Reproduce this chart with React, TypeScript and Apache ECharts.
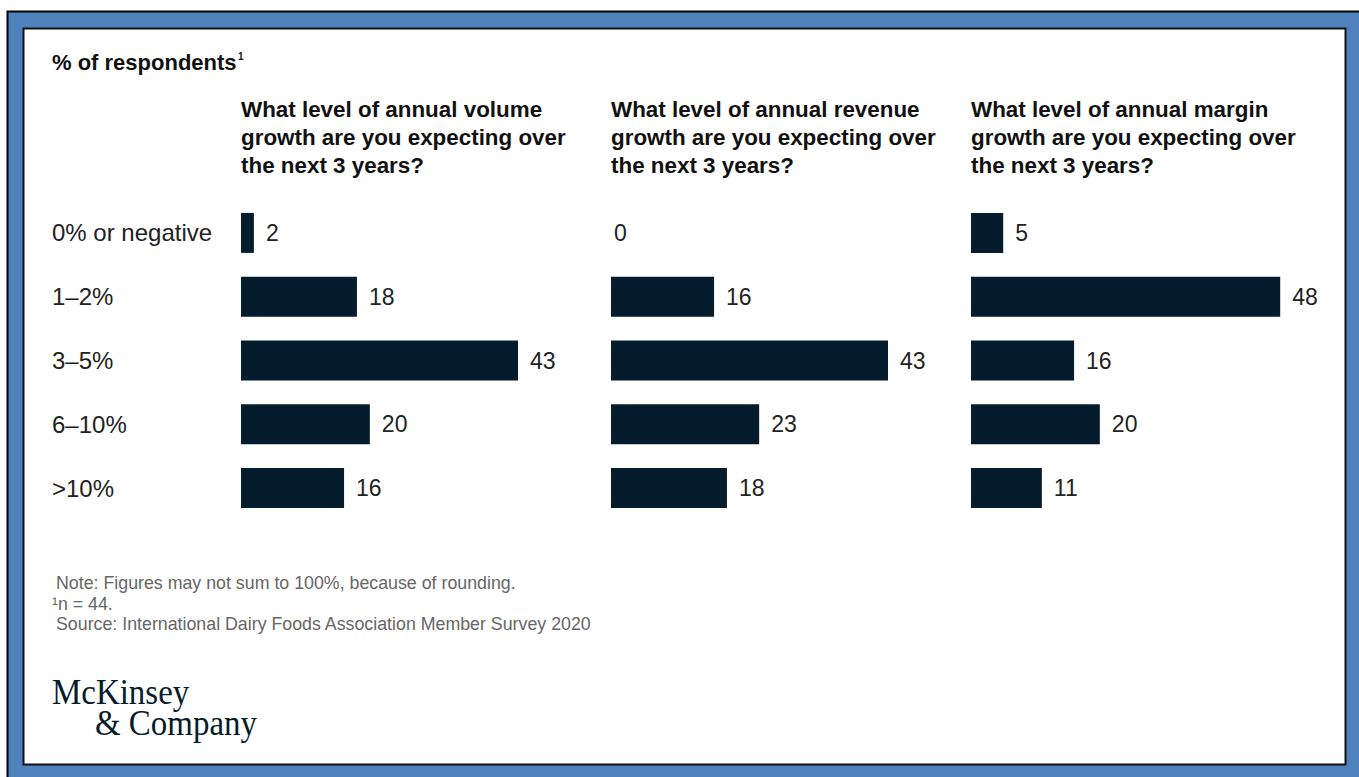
import React, { useEffect, useRef } from "react";
import * as echarts from "echarts";

const categories = ["0% or negative", "1–2%", "3–5%", "6–10%", ">10%"];
const volumeValues = [2, 18, 43, 20, 16];
const revenueValues = [0, 16, 43, 23, 18];
const marginValues = [5, 48, 16, 20, 11];
const panelTitles = [
  "What level of annual volume\ngrowth are you expecting over\nthe next 3 years?",
  "What level of annual revenue\ngrowth are you expecting over\nthe next 3 years?",
  "What level of annual margin\ngrowth are you expecting over\nthe next 3 years?",
];
const panelLefts = [241, 611, 971];
const seriesValues = [volumeValues, revenueValues, marginValues];

const BAR = "#051c2c";
const TXT = "#222222";
const FONT = "'Liberation Sans', Arial, sans-serif";
const SERIF = "'Liberation Serif', 'Times New Roman', serif";

export default function App() {
  const ref = useRef<HTMLDivElement>(null);
  useEffect(() => {
    const chart = echarts.init(ref.current!, null, { renderer: "svg" });
    const AXMAX = 50;
    const pxPerUnit = 277 / 43;
    const gridW = AXMAX * pxPerUnit;
    const grids = panelLefts.map((l) => ({ left: l, top: 201, width: gridW, height: 319 }));
    const xAxes = panelLefts.map((_, i) => ({
      type: "value",
      gridIndex: i,
      min: 0,
      max: AXMAX,
      show: false,
    }));
    const yAxes = panelLefts.map((_, i) => ({
      type: "category",
      gridIndex: i,
      data: categories,
      inverse: true,
      axisLine: { show: false },
      axisTick: { show: false },
      splitLine: { show: false },
      axisLabel: {
        show: i === 0,
        align: "left",
        margin: 189,
        color: TXT,
        fontSize: 24,
        fontFamily: FONT,
        verticalAlign: "middle",
        padding: [0, 0, 4, 0],
      },
    }));
    const series = seriesValues.map((vals, i) => ({
      type: "bar",
      xAxisIndex: i,
      yAxisIndex: i,
      data: vals.map((v) => (v === 0 ? { value: v, label: { distance: 3 } } : v)),
      barWidth: 40,
      itemStyle: { color: BAR },
      label: {
        show: true,
        position: "right",
        distance: 12,
        color: TXT,
        fontSize: 23,
        fontFamily: FONT,
      },
    }));
    const titleTexts = panelTitles.map((t, i) => ({
      type: "text",
      left: panelLefts[i],
      top: 95,
      style: {
        text: t,
        fill: "#111111",
        font: `bold 22.4px ${FONT}`,
        lineHeight: 28,
      },
    }));
    chart.setOption({
      animation: false,
      backgroundColor: "#ffffff",
      grid: grids,
      xAxis: xAxes,
      yAxis: yAxes,
      series,
      graphic: [
        {
          type: "rect",
          z: -10,
          shape: { x: 7.5, y: 11.5, width: 1400, height: 800 },
          style: { fill: "#4f81bd", stroke: "#000000", lineWidth: 2 },
          silent: true,
        },
        {
          type: "rect",
          z: -9,
          shape: { x: 23.5, y: 28.5, width: 1322, height: 736 },
          style: { fill: "#ffffff", stroke: "#111111", lineWidth: 2 },
          silent: true,
        },
        {
          type: "text",
          x: 52,
          y: 62,
          style: {
            text: "% of respondents",
            fill: "#111111",
            font: `bold 22px ${FONT}`,
            verticalAlign: "middle",
          },
        },
        {
          type: "text",
          x: 238,
          y: 56,
          style: { text: "1", fill: "#111111", font: `bold 10px ${FONT}`, verticalAlign: "middle" },
        },
        ...titleTexts,
        {
          type: "text",
          x: 56,
          y: 583,
          style: {
            text: "Note: Figures may not sum to 100%, because of rounding.",
            fill: "#666666",
            font: `17.8px ${FONT}`,
            verticalAlign: "middle",
          },
        },
        {
          type: "text",
          x: 52,
          y: 604,
          style: { text: "¹n = 44.", fill: "#666666", font: `17.8px ${FONT}`, verticalAlign: "middle" },
        },
        {
          type: "text",
          x: 56,
          y: 624,
          style: {
            text: "Source: International Dairy Foods Association Member Survey 2020",
            fill: "#666666",
            font: `17.8px ${FONT}`,
            verticalAlign: "middle",
          },
        },
        {
          type: "text",
          x: 52,
          y: 691,
          scaleX: 0.915,
          style: { text: "McKinsey", fill: BAR, font: `36px ${SERIF}`, verticalAlign: "middle" },
        },
        {
          type: "text",
          x: 95,
          y: 722,
          scaleX: 0.915,
          style: { text: "& Company", fill: BAR, font: `36px ${SERIF}`, verticalAlign: "middle" },
        },
      ],
    });
    return () => chart.dispose();
  }, []);
  return (
    <div
      ref={ref}
      style={{ position: "fixed", left: 0, top: 0, width: 1359, height: 777 }}
    />
  );
}
